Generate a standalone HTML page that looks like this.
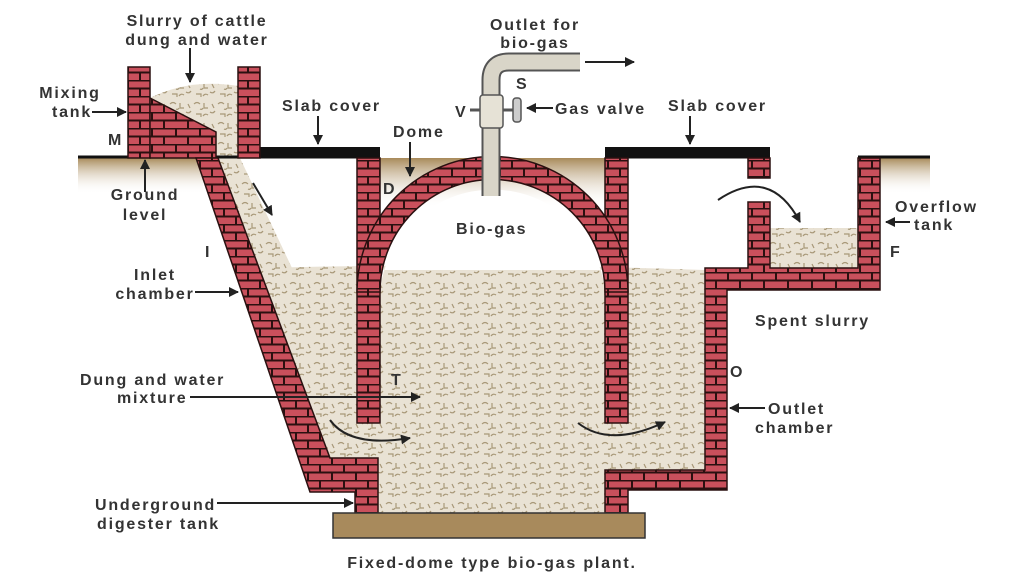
<!DOCTYPE html>
<html><head><meta charset="utf-8"><style>
body{margin:0;background:#fff;}
svg{display:block;}
text{font-family:"Liberation Sans",sans-serif;font-weight:bold;font-size:16px;letter-spacing:1.8px;fill:#333;}
</style></head><body>
<svg width="1024" height="576" viewBox="0 0 1024 576" xmlns="http://www.w3.org/2000/svg">
<defs>
<pattern id="brick" width="24" height="16" patternUnits="userSpaceOnUse">
<rect width="24" height="16" fill="#c9505c"/>
<path d="M0 0.5H24M0 8.5H24M8 0V8M20 8V16" stroke="#2a1010" stroke-width="2"/>
</pattern>
<pattern id="slurry" width="24" height="20" patternUnits="userSpaceOnUse">
<rect width="24" height="20" fill="#e9e2d4"/>
<path d="M2 4q3-3 6 0M12 3v5h4M18 12q3 2 5-1M4 14h5v3M11 16q2-3 5-1M20 4l2 4M8 9q2 1 3-1" stroke="#a89878" stroke-width="1.2" fill="none"/>
</pattern>
<linearGradient id="soil" x1="0" y1="0" x2="0" y2="1">
<stop offset="0" stop-color="#a88a5a"/><stop offset="1" stop-color="#fff" stop-opacity="0"/>
</linearGradient>
<marker id="ah" markerWidth="10" markerHeight="10" refX="9" refY="5" orient="auto" markerUnits="userSpaceOnUse">
<path d="M0 0L10 5L0 10z" fill="#222"/>
</marker>
</defs>

<rect x="78" y="158" width="125" height="36" fill="url(#soil)"/>
<rect x="380" y="158" width="225" height="50" fill="url(#soil)"/>
<rect x="880" y="158" width="50" height="36" fill="url(#soil)"/>

<path d="M150 98 Q190 78 238 86 V158 H218 Z" fill="url(#slurry)"/>
<path d="M218 158 H240 L292 268 L258 268 Z" fill="url(#slurry)"/>
<path d="M258 268 Q480 262 705 270 V470 H605 V513 H378 V458 H330 Z" fill="url(#slurry)"/>
<rect x="770" y="228" width="88" height="42" fill="url(#slurry)"/>

<path d="M380 270 V292 A113 113 0 0 1 605 292 V270 Z" fill="#fff"/>

<path d="M78 157 H380 M605 157 H770 M858 157 H930" stroke="#111" stroke-width="3"/>
<rect x="260" y="147" width="120" height="11" fill="#111"/>
<rect x="605" y="147" width="165" height="11" fill="#111"/>

<g stroke="#2a1010" stroke-width="1.5" fill="url(#brick)">
<rect x="128" y="67" width="22" height="91"/>
<rect x="238" y="67" width="22" height="91"/>
<path d="M150 98 L216 132 V158 H150 Z"/>
<path d="M196 158 H218 L330 458 H378 V515 H355 V492 H310 Z"/>
<rect x="357" y="158" width="23" height="265"/>
<rect x="605" y="158" width="23" height="265"/>
<path d="M357 292 A135.5 135.5 0 0 1 628 292 H605 A112.5 112.5 0 0 0 380 292 Z"/>
<rect x="748" y="158" width="22" height="20"/>
<path d="M748 202 H770 V268 H858 V158 H880 V290 H727 V490 H628 V513 H605 V470 H705 V268 H748 Z"/>
</g>

<rect x="333" y="513" width="312" height="25" fill="#a88a5c" stroke="#333" stroke-width="1.5"/>

<path d="M491 196 V80 Q491 62 509 62 H580" stroke="#555" stroke-width="19" fill="none"/>
<path d="M491 196 V80 Q491 62 509 62 H580" stroke="#d9d5c8" stroke-width="15" fill="none"/>
<rect x="480" y="95" width="23" height="33" rx="3" fill="#e6e2d6" stroke="#555" stroke-width="1.5"/>
<path d="M503 110 H513 M470 110 H480" stroke="#555" stroke-width="3"/>
<rect x="513" y="98" width="8" height="24" rx="3" fill="#ccc" stroke="#555" stroke-width="1.5"/>

<g stroke="#222" stroke-width="2" fill="none" marker-end="url(#ah)">
<path d="M190 48 V82"/>
<path d="M92 112 H126"/>
<path d="M145 192 V160"/>
<path d="M318 116 V144"/>
<path d="M410 142 V176"/>
<path d="M585 62 H634"/>
<path d="M553 108 H527"/>
<path d="M690 116 V144"/>
<path d="M253 183 L272 215"/>
<path d="M195 292 H238"/>
<path d="M910 222 H886"/>
<path d="M190 397 H420"/>
<path d="M765 408 H730"/>
<path d="M217 503 H353"/>
<path d="M330 420 Q350 448 410 438"/>
<path d="M578 423 Q610 448 665 422"/>
<path d="M718 200 Q770 165 800 222"/>
</g>

<text x="197" y="26" text-anchor="middle">Slurry of cattle</text>
<text x="197" y="45" text-anchor="middle">dung and water</text>
<text x="70" y="98" text-anchor="middle">Mixing</text>
<text x="72" y="117" text-anchor="middle">tank</text>
<text x="108" y="145">M</text>
<text x="145" y="200" text-anchor="middle">Ground</text>
<text x="145" y="220" text-anchor="middle">level</text>
<text x="282" y="111">Slab cover</text>
<text x="393" y="137">Dome</text>
<text x="383" y="194">D</text>
<text x="535" y="30" text-anchor="middle">Outlet for</text>
<text x="535" y="48" text-anchor="middle">bio-gas</text>
<text x="516" y="89">S</text>
<text x="455" y="117">V</text>
<text x="555" y="114">Gas valve</text>
<text x="668" y="111">Slab cover</text>
<text x="456" y="234">Bio-gas</text>
<text x="205" y="257">I</text>
<text x="155" y="280" text-anchor="middle">Inlet</text>
<text x="155" y="299" text-anchor="middle">chamber</text>
<text x="755" y="326">Spent slurry</text>
<text x="895" y="212">Overflow</text>
<text x="914" y="230">tank</text>
<text x="890" y="257">F</text>
<text x="730" y="377">O</text>
<text x="80" y="385">Dung and water</text>
<text x="117" y="403">mixture</text>
<text x="391" y="385">T</text>
<text x="768" y="414">Outlet</text>
<text x="755" y="433">chamber</text>
<text x="95" y="510">Underground</text>
<text x="97" y="529">digester tank</text>
<text x="492" y="568" text-anchor="middle">Fixed-dome type bio-gas plant.</text>
</svg>
</body></html>
